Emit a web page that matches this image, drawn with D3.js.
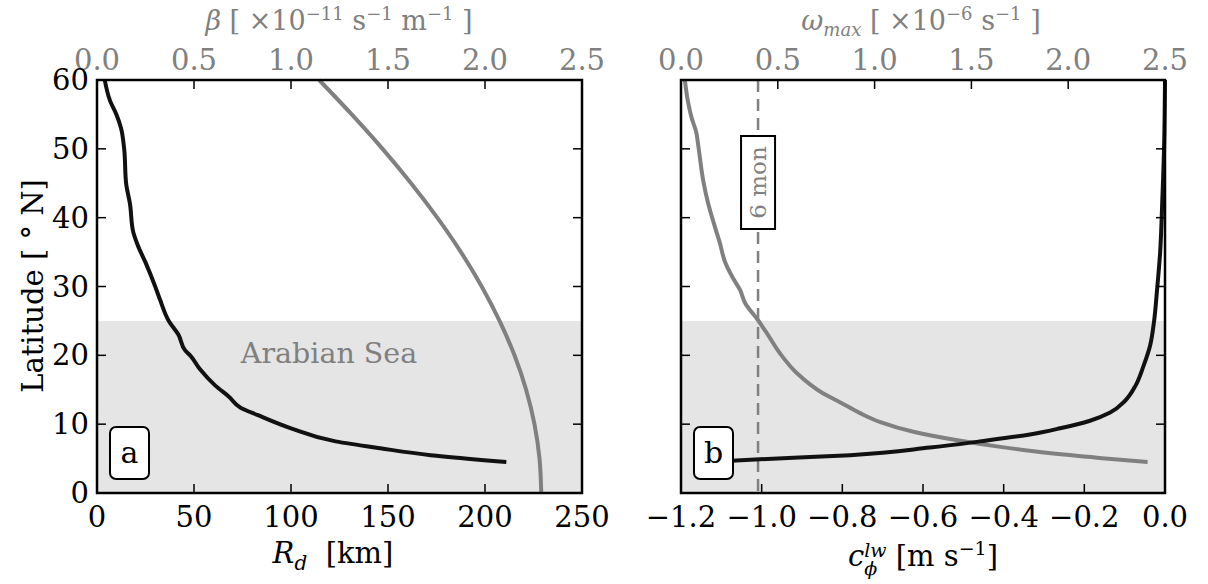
<!DOCTYPE html>
<html>
<head>
<meta charset="utf-8">
<script src="https://cdn.jsdelivr.net/npm/d3@7"></script>
<style>
  body { margin: 0; background: #fff; }
  svg text { font-family: "DejaVu Serif", serif; white-space: pre; }
</style>
</head>
<body>
<div id="chart"></div>
<script>

// ---- data ----
// panel a: deformation radius (black, bottom axis)
var rdLat = [60, 57, 55, 53, 50, 45, 42, 38, 36, 33.5, 30, 28, 25, 23, 20.7, 20, 18, 15.6, 14, 12.4, 11.3, 9.4, 7.5, 6.5, 5.5, 4.5];
var rdKm  = [4, 6.7, 10, 12.4, 14, 15, 17, 18.6, 21, 25, 30, 32.6, 37, 42, 45.5, 48, 53, 61, 68, 74, 83, 100, 123, 146, 172, 211];

// panel a: beta (gray, top axis)
var betaLat = [0, 5, 10, 15, 20, 25, 30, 35, 40, 45, 50, 55, 60];
var betaVal = [2.29, 2.281, 2.255, 2.212, 2.152, 2.075, 1.983, 1.876, 1.754, 1.619, 1.472, 1.313, 1.145];

// panel b: long wave phase speed (black, bottom axis)
var cLat = [4.5, 4.9, 5.5, 6.6, 7.5, 8.5, 9.4, 10.5, 11.7, 13.4, 15.6, 18.5, 21.4, 25, 29.3, 35, 42, 51, 60];
var cVal = [-1.136, -1.004, -0.781, -0.583, -0.459, -0.335, -0.26, -0.186, -0.136, -0.099, -0.073, -0.053, -0.037, -0.027, -0.02, -0.012, -0.007, -0.002, 0];

// panel b: maximum frequency (gray, top axis)
var omLat = [60, 57, 54.5, 52.5, 50.3, 45.5, 42.1, 38.6, 36.3, 33.6, 31.2, 29.5, 27.6, 25.1, 23.2, 20.3, 17.4, 14.5, 13.2, 11.6, 10.3, 8.9, 7.7, 6.7, 5.8, 5.1, 4.5];
var omVal = [0.02, 0.035, 0.055, 0.078, 0.09, 0.114, 0.14, 0.176, 0.201, 0.227, 0.269, 0.305, 0.331, 0.398, 0.444, 0.511, 0.599, 0.733, 0.821, 0.925, 1.03, 1.2, 1.42, 1.65, 1.9, 2.16, 2.41];

// six month frequency, shaded latitude band
var sixMonth = 0.398;
var seaBand = [0, 25];

// ticks
var latTicks = [0, 10, 20, 30, 40, 50, 60];
var rdTicks = [0, 50, 100, 150, 200, 250];
var topTicks = [0.0, 0.5, 1.0, 1.5, 2.0, 2.5];
var cTicks = [-1.2, -1.0, -0.8, -0.6, -0.4, -0.2, 0.0];

var grey = "#808080";
var shade = "#e5e5e5";
var fs = 29;

// ---- svg ----
var svg = d3.select("#chart").append("svg")
    .attr("width", 1208)
    .attr("height", 584);

// shared latitude scale
var y = d3.scaleLinear().domain([0, 60]).range([493, 80]);

var xa = d3.scaleLinear().domain([0, 250]).range([97, 582]);
var xaTop = d3.scaleLinear().domain([0, 2.5]).range([97, 582]);
var xb = d3.scaleLinear().domain([-1.2, 0]).range([681, 1165]);
var xbTop = d3.scaleLinear().domain([0, 2.5]).range([681, 1165]);

function fmt1(d) { return d3.format(".1f")(d).replace("-", "\u2212"); }

// mixed-style label: tspans flow inside one centred text
function mathLabel(g, pieces, cx, cy, color, size) {
  var base = size || fs;
  var t = g.append("text")
    .attr("x", cx).attr("y", cy)
    .attr("text-anchor", "middle")
    .attr("fill", color)
    .attr("font-size", base);
  var off = 0, prevW = 0, carry = 0;
  pieces.forEach(function(p) {
    var want = p.dy || 0;
    var s = t.append("tspan")
      .attr("font-size", p.size || base)
      .attr("font-style", p.it ? "italic" : "normal")
      .attr("dy", want - off)
      .text(p.t);
    off = want;
    var w = s.node().getComputedTextLength();
    if (p.stack) {
      s.attr("dx", -prevW);
      carry = Math.max(0, prevW - w);
    } else {
      if (carry) s.attr("dx", carry);
      carry = 0;
      prevW = w;
    }
  });
  return t;
}

function panel(xScale) {
  var x0 = xScale.range()[0], x1 = xScale.range()[1];
  var g = svg.append("g");

  // shaded Arabian Sea band
  g.append("rect")
    .attr("x", x0).attr("width", x1 - x0)
    .attr("y", y(seaBand[1])).attr("height", y(seaBand[0]) - y(seaBand[1]))
    .attr("fill", shade);
  return g;
}

function frame(g, xScale, xTop, bottomTicks, showY) {
  var x0 = xScale.range()[0], x1 = xScale.range()[1];
  var tl = 9;

  // ticks, all inward
  latTicks.forEach(function(d) {
    g.append("line").attr("x1", x0).attr("x2", x0 + tl).attr("y1", y(d)).attr("y2", y(d)).attr("stroke", "#000").attr("stroke-width", 1.5);
    g.append("line").attr("x1", x1).attr("x2", x1 - tl).attr("y1", y(d)).attr("y2", y(d)).attr("stroke", "#000").attr("stroke-width", 1.5);
  });
  bottomTicks.forEach(function(d) {
    g.append("line").attr("x1", xScale(d)).attr("x2", xScale(d)).attr("y1", y(0)).attr("y2", y(0) - tl).attr("stroke", "#000").attr("stroke-width", 1.5);
  });
  topTicks.forEach(function(d) {
    g.append("line").attr("x1", xTop(d)).attr("x2", xTop(d)).attr("y1", y(60)).attr("y2", y(60) + tl).attr("stroke", "#000").attr("stroke-width", 1.5);
  });

  // spines
  g.append("rect")
    .attr("x", x0).attr("y", y(60))
    .attr("width", x1 - x0).attr("height", y(0) - y(60))
    .attr("fill", "none").attr("stroke", "#000").attr("stroke-width", 2.5);

  // tick labels
  g.selectAll(null).data(bottomTicks).enter().append("text")
    .attr("x", function(d) { return xScale(d); })
    .attr("y", 527)
    .attr("text-anchor", "middle")
    .attr("font-size", fs)
    .text(function(d) { return bottomTicks === cTicks ? fmt1(d) : d; });

  g.selectAll(null).data(topTicks).enter().append("text")
    .attr("x", function(d) { return xTop(d); })
    .attr("y", 70)
    .attr("text-anchor", "middle")
    .attr("font-size", fs)
    .attr("fill", grey)
    .text(function(d) { return d3.format(".1f")(d); });

  if (showY) {
    g.selectAll(null).data(latTicks).enter().append("text")
      .attr("x", x0 - 8)
      .attr("y", function(d) { return y(d) + 10; })
      .attr("text-anchor", "end")
      .attr("font-size", fs)
      .text(function(d) { return d; });
  }
}

function curve(g, xs, ys, xScale, color) {
  var pts = xs.map(function(v, i) { return [v, ys[i]]; });
  g.append("path")
    .datum(pts)
    .attr("d", d3.line()
      .x(function(d) { return xScale(d[0]); })
      .y(function(d) { return y(d[1]); })
      .curve(d3.curveMonotoneY))
    .attr("fill", "none")
    .attr("stroke", color)
    .attr("stroke-width", 4)
    .attr("stroke-linejoin", "round");
}

function letterBox(g, x0, letter) {
  g.append("rect")
    .attr("x", x0 + 13).attr("y", 427)
    .attr("width", 39).attr("height", 52)
    .attr("rx", 6)
    .attr("fill", "#fff").attr("stroke", "#000").attr("stroke-width", 2);
  g.append("text")
    .attr("x", x0 + 32.5).attr("y", 463)
    .attr("text-anchor", "middle")
    .attr("font-size", 30)
    .text(letter);
}

// ---- panel a ----
var ga = panel(xa);

ga.append("text")
  .attr("x", 329).attr("y", 363)
  .attr("text-anchor", "middle")
  .attr("font-size", 28.5)
  .attr("fill", grey)
  .text("Arabian Sea");

curve(ga, betaVal, betaLat, xaTop, grey);
curve(ga, rdKm, rdLat, xa, "#111");
frame(ga, xa, xaTop, rdTicks, true);
letterBox(ga, 97, "a");

// ---- panel b ----
var gb = panel(xb);

// six month frequency marker
gb.append("line")
  .attr("x1", xbTop(sixMonth)).attr("x2", xbTop(sixMonth))
  .attr("y1", y(60)).attr("y2", y(0))
  .attr("stroke", grey).attr("stroke-width", 2.5)
  .attr("stroke-dasharray", "12,7");

curve(gb, omVal, omLat, xbTop, grey);
curve(gb, cVal, cLat, xb, "#111");
frame(gb, xb, xbTop, cTicks, false);

var sx = xbTop(sixMonth);
gb.append("rect")
  .attr("x", sx - 17).attr("y", 136)
  .attr("width", 34).attr("height", 93)
  .attr("fill", "#fff").attr("stroke", "#000").attr("stroke-width", 2);
gb.append("text")
  .attr("transform", "translate(" + (sx + 8) + "," + 182.5 + ") rotate(-90)")
  .attr("text-anchor", "middle")
  .attr("font-size", 23)
  .attr("fill", grey)
  .text("6 mon");

letterBox(gb, 681, "b");

// ---- axis labels ----
svg.append("text")
  .attr("transform", "translate(43,286) rotate(-90)")
  .attr("text-anchor", "middle")
  .attr("font-size", fs)
  .text("Latitude [ \u00B0 N]");

var la = svg.append("g");
mathLabel(la, [
  {t: "R", it: true},
  {t: "d", it: true, size: 20, dy: 7},
  {t: "  [km]"}
], 333, 563, "#000");

mathLabel(la, [
  {t: "c", it: true},
  {t: "lw", it: true, size: 19, dy: -9},
  {t: "\u03D5", it: true, size: 19, dy: 9, stack: true},
  {t: " [m s"},
  {t: "\u22121", size: 19, dy: -11},
  {t: "]"}
], 923, 566, "#000");

mathLabel(la, [
  {t: "\u03B2", it: true},
  {t: " [ \u00D710"},
  {t: "\u221211", size: 18, dy: -10},
  {t: " s"},
  {t: "\u22121", size: 18, dy: -10},
  {t: " m"},
  {t: "\u22121", size: 18, dy: -10},
  {t: " ]"}
], 339, 30, grey, 27);

mathLabel(la, [
  {t: "\u03C9", it: true},
  {t: "max", it: true, size: 18, dy: 6},
  {t: " [ \u00D710"},
  {t: "\u22126", size: 18, dy: -10},
  {t: " s"},
  {t: "\u22121", size: 18, dy: -10},
  {t: " ]"}
], 921, 30, grey, 27);

</script>
</body>
</html>
